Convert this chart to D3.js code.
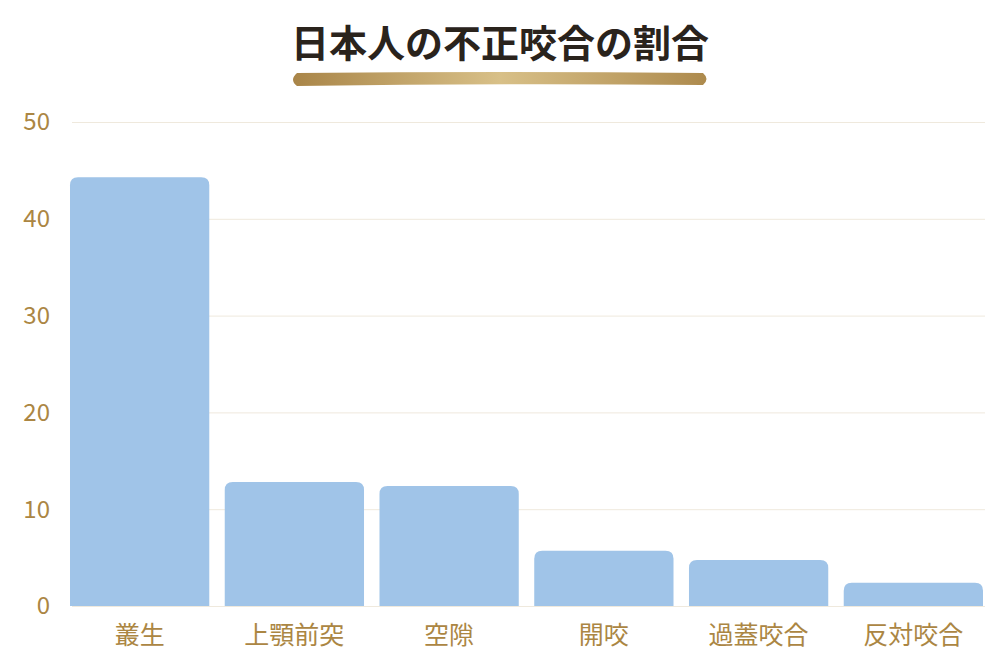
<!DOCTYPE html>
<html>
<head>
<meta charset="utf-8">
<script src="https://cdn.jsdelivr.net/npm/d3@7"></script>
<style>
  body { margin: 0; background: #fff; }
  text { font-family: "Noto Sans CJK JP", "Noto Sans", sans-serif; }
</style>
</head>
<body>
<svg id="chart" width="1000" height="666"></svg>
<script>
var categories = ["叢生", "上顎前突", "空隙", "開咬", "過蓋咬合", "反対咬合"];
var values = [44.3, 12.8, 12.4, 5.7, 4.75, 2.4];
var yTicks = [0, 10, 20, 30, 40, 50];
var title = "日本人の不正咬合の割合";

var svg = d3.select("#chart"),
    width = +svg.attr("width"),
    height = +svg.attr("height");

var gold = "#ab8643";

var x = d3.scaleBand()
    .domain(categories)
    .range([70, 983])
    .paddingInner(0.1)
    .paddingOuter(0);

var y = d3.scaleLinear()
    .domain([0, 50])
    .range([606, 122]);

// gradient for the brush stroke under the title
var defs = svg.append("defs");
var grad = defs.append("linearGradient").attr("id", "brush");
grad.append("stop").attr("offset", "0%").attr("stop-color", "#a98548");
grad.append("stop").attr("offset", "50%").attr("stop-color", "#d8c088");
grad.append("stop").attr("offset", "100%").attr("stop-color", "#ad8a4d");

svg.append("text")
    .attr("x", 500)
    .attr("y", 57)
    .attr("text-anchor", "middle")
    .attr("font-size", 38)
    .attr("font-weight", "bold")
    .attr("fill", "#2a231c")
    .text(title);

svg.append("path")
    .attr("d", "M297,73 Q500,71 703,73 Q710,79 703,85 Q500,83 297,86 Q289,80 297,73 Z")
    .attr("fill", "url(#brush)");

// gridlines
svg.append("g")
  .selectAll("line")
  .data(yTicks)
  .enter().append("line")
    .attr("x1", 72)
    .attr("x2", 985)
    .attr("y1", function(d) { return y(d) + 0.5; })
    .attr("y2", function(d) { return y(d) + 0.5; })
    .attr("stroke", "#efe9dd")
    .attr("stroke-width", 1);

// y labels
svg.append("g")
  .selectAll("text")
  .data(yTicks)
  .enter().append("text")
    .attr("x", 50)
    .attr("y", function(d) { return y(d); })
    .attr("dy", "0.35em")
    .attr("text-anchor", "end")
    .attr("font-size", 24)
    .attr("fill", gold)
    .attr("font-family", "Lato, 'Noto Sans', sans-serif")
    .text(function(d) { return d; });

// bars, top corners rounded
var r = 8;
svg.append("g")
  .selectAll("path")
  .data(values)
  .enter().append("path")
    .attr("fill", "#a0c4e8")
    .attr("d", function(d, i) {
      var x0 = x(categories[i]), w = x.bandwidth(), y0 = y(d), y1 = y(0);
      return "M" + x0 + "," + y1 +
        "V" + (y0 + r) +
        "Q" + x0 + "," + y0 + " " + (x0 + r) + "," + y0 +
        "H" + (x0 + w - r) +
        "Q" + (x0 + w) + "," + y0 + " " + (x0 + w) + "," + (y0 + r) +
        "V" + y1 + "Z";
    });

// x labels
svg.append("g")
  .selectAll("text")
  .data(categories)
  .enter().append("text")
    .attr("x", function(d) { return x(d) + x.bandwidth() / 2; })
    .attr("y", 644)
    .attr("text-anchor", "middle")
    .attr("font-size", 25)
    .attr("fill", gold)
    .text(function(d) { return d; });
</script>
</body>
</html>
